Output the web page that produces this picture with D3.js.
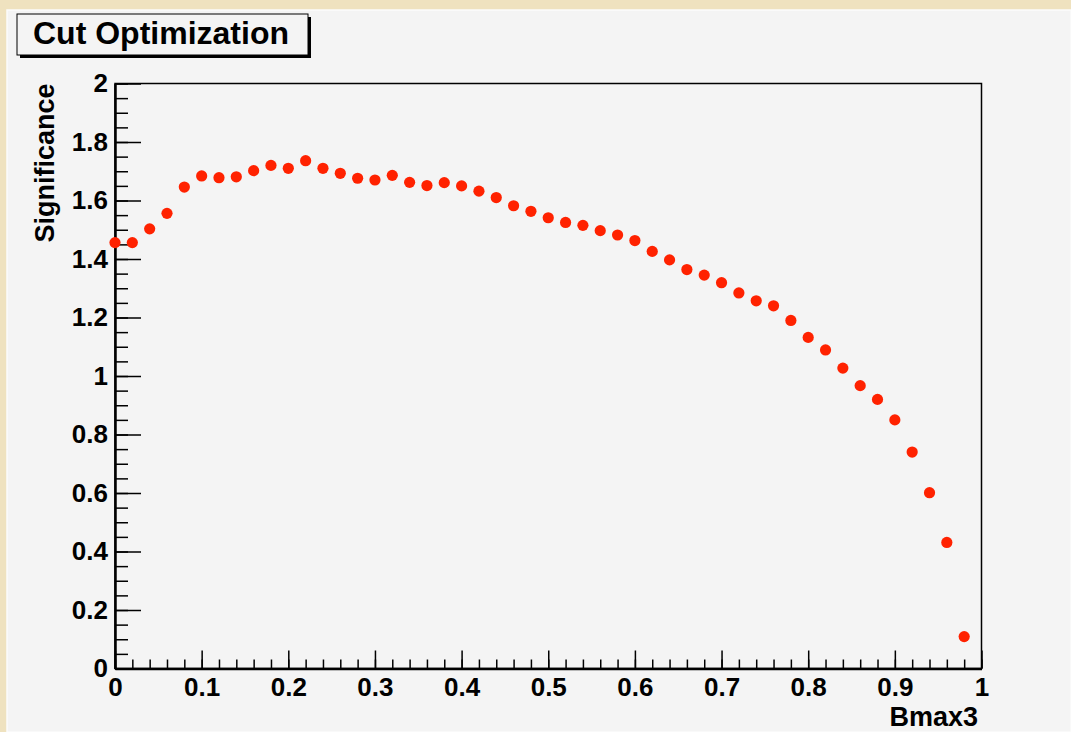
<!DOCTYPE html>
<html>
<head>
<meta charset="utf-8">
<script src="https://cdn.jsdelivr.net/npm/d3@7"></script>
<style>
  body { margin: 0; background: #efe2bf; }
  svg { display: block; }
  text { font-family: "Liberation Sans", Arial, Helvetica, sans-serif; font-weight: bold; }
</style>
</head>
<body>
<div id="chart"></div>
<script>

// cut values scanned (Bmax3)
var cutValues = [0, 0.02, 0.04, 0.06, 0.08, 0.1, 0.12, 0.14, 0.16, 0.18,
  0.2, 0.22, 0.24, 0.26, 0.28, 0.3, 0.32, 0.34, 0.36, 0.38,
  0.4, 0.42, 0.44, 0.46, 0.48, 0.5, 0.52, 0.54, 0.56, 0.58,
  0.6, 0.62, 0.64, 0.66, 0.68, 0.7, 0.72, 0.74, 0.76, 0.78,
  0.8, 0.82, 0.84, 0.86, 0.88, 0.9, 0.92, 0.94, 0.96, 0.98];

// significance
var significance = [1.456, 1.456, 1.503, 1.556, 1.646, 1.684, 1.678, 1.681, 1.702, 1.720,
  1.710, 1.736, 1.710, 1.693, 1.676, 1.670, 1.686, 1.662, 1.651, 1.661,
  1.650, 1.632, 1.610, 1.582, 1.563, 1.541, 1.525, 1.515, 1.497, 1.482,
  1.463, 1.426, 1.397, 1.364, 1.345, 1.319, 1.284, 1.257, 1.240, 1.190,
  1.132, 1.089, 1.027, 0.967, 0.920, 0.850, 0.740, 0.601, 0.431, 0.109];

var xTicks = [0, 0.1, 0.2, 0.3, 0.4, 0.5, 0.6, 0.7, 0.8, 0.9, 1];
var yTicks = [0, 0.2, 0.4, 0.6, 0.8, 1, 1.2, 1.4, 1.6, 1.8, 2];
var xTitle = "Bmax3";
var yTitle = "Significance";
var chartTitle = "Cut Optimization";

var width = 1071, height = 732;
var padL = 115, padR = 981.5, padT = 83.5, padB = 668.5;

var svg = d3.select("#chart").append("svg")
  .attr("width", width)
  .attr("height", height);

// canvas panel
svg.append("rect")
  .attr("x", 7).attr("y", 10)
  .attr("width", width - 7).attr("height", height - 10)
  .style("fill", "#f4f4f4")
  .style("stroke", "#fbfbfb")
  .style("stroke-width", 1.5);

var x = d3.scaleLinear().domain([0, 1]).range([padL, padR]);
var y = d3.scaleLinear().domain([0, 2]).range([padB, padT]);

// frame
svg.append("rect")
  .attr("x", x(0)).attr("y", y(2))
  .attr("width", x(1) - x(0)).attr("height", y(0) - y(2))
  .style("fill", "none")
  .style("stroke", "#000")
  .style("stroke-width", 1.5);

var fmt = d3.format("~g");

// minor ticks
var xMinor = d3.range(0, 51).map(function(i) { return i / 50; });
var yMinor = d3.range(0, 41).map(function(i) { return i / 20; });

svg.append("g")
  .attr("transform", "translate(0," + padB + ")")
  .call(d3.axisBottom(x).tickValues(xMinor).tickSize(-9).tickSizeOuter(0).tickFormat(""))
  .call(function(g) { g.select(".domain").remove(); });

svg.append("g")
  .attr("transform", "translate(" + padL + ",0)")
  .call(d3.axisLeft(y).tickValues(yMinor).tickSize(-13).tickSizeOuter(0).tickFormat(""))
  .call(function(g) { g.select(".domain").remove(); });

// major ticks + labels
svg.append("g")
  .attr("transform", "translate(0," + padB + ")")
  .call(d3.axisBottom(x).tickValues(xTicks).tickSize(-18).tickSizeOuter(0).tickPadding(9).tickFormat(fmt));

svg.append("g")
  .attr("transform", "translate(" + padL + ",0)")
  .call(d3.axisLeft(y).tickValues(yTicks).tickSize(-26).tickSizeOuter(0).tickPadding(7).tickFormat(fmt));

svg.selectAll(".tick line").style("stroke", "#000").style("stroke-width", 1.5);
svg.selectAll(".domain").style("stroke", "#000").style("stroke-width", 2.5);
svg.selectAll(".tick text")
  .style("font-family", '"Liberation Sans", Arial, sans-serif')
  .style("font-weight", "bold")
  .style("font-size", "26px")
  .style("fill", "#000");

// data points
svg.append("g").selectAll("circle")
  .data(cutValues)
  .enter().append("circle")
  .attr("cx", function(d) { return x(d); })
  .attr("cy", function(d, i) { return y(significance[i]); })
  .attr("r", 5.6)
  .style("fill", "#ff2200");

// axis titles
svg.append("text")
  .attr("x", 978).attr("y", 726)
  .attr("text-anchor", "end")
  .style("font-size", "27px")
  .text(xTitle);

svg.append("text")
  .attr("transform", "translate(54," + padT + ") rotate(-90)")
  .attr("text-anchor", "end")
  .style("font-size", "27px")
  .text(yTitle);

// title box with shadow
svg.append("rect")
  .attr("x", 20).attr("y", 17)
  .attr("width", 291).attr("height", 41)
  .style("fill", "#000");
svg.append("rect")
  .attr("x", 17).attr("y", 14)
  .attr("width", 291).attr("height", 41)
  .style("fill", "#f4f4f4")
  .style("stroke", "#000")
  .style("stroke-width", 1);
svg.append("text")
  .attr("x", 33).attr("y", 44)
  .style("font-size", "32px")
  .text(chartTitle);

</script>
</body>
</html>
